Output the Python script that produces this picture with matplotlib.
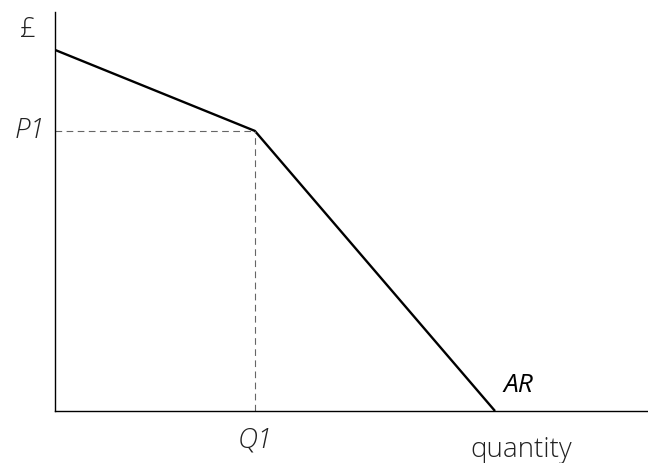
import matplotlib
matplotlib.use('Agg')
import matplotlib.pyplot as plt

plt.rcParams['font.family'] = ['Open Sans', 'DejaVu Sans']

# kinked AR curve (arbitrary units, axes run 0..100)
ar_x = [0, 33.7, 74.2]
ar_y = [90.5, 70.2, 0]
q1 = 33.7
p1 = 70.2

fig = plt.figure(figsize=(6.48, 4.63), dpi=100)
ax = fig.add_axes([55/648, 52/463, 593/648, 399/463])
ax.set_xlim(0, 100)
ax.set_ylim(0, 100)

ax.plot(ar_x, ar_y, color='black', lw=1.7, solid_capstyle='butt')
ax.plot([0, q1], [p1, p1], color='#666666', lw=0.8, ls=(0, (6, 4)))
ax.plot([q1, q1], [0, p1], color='#666666', lw=0.8, ls=(0, (6, 4)))

for s in ['top', 'right']:
    ax.spines[s].set_visible(False)
for s in ['left', 'bottom']:
    ax.spines[s].set_linewidth(1.0)
ax.set_xticks([])
ax.set_yticks([])

txt = dict(fontsize=20, color='#222222', ha='center', va='center', fontweight='light')
fig.text(28/648, 1 - 30/463, '£', **txt)
fig.text(30/648, 1 - 131/463, 'P1', style='italic', **txt)
fig.text(255/648, 1 - 440/463, 'Q1', style='italic', **txt)
fig.text(521/648, 1 - 450/463, 'quantity', **txt)
fig.text(518/648, 1 - 385/463, 'AR', style='italic', fontsize=19, color='black',
         fontweight='normal', ha='center', va='center')

fig.savefig('out.png', dpi=100)
